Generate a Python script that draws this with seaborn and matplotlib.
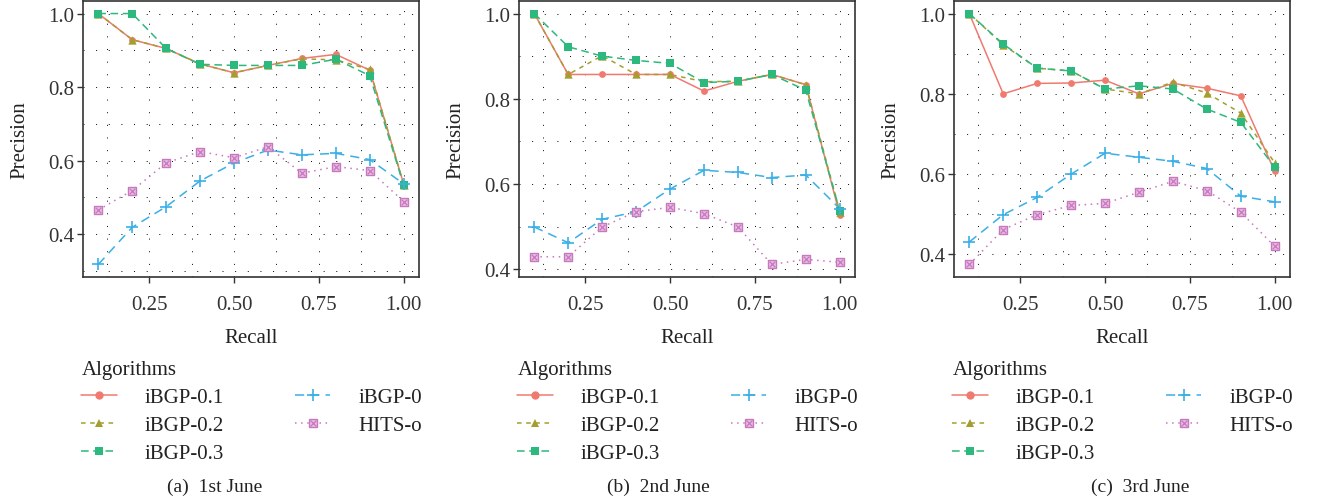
import pandas as pd
import seaborn as sns
import matplotlib.pyplot as plt
from matplotlib.lines import Line2D
from matplotlib.legend_handler import HandlerTuple
from matplotlib.ticker import MultipleLocator, FormatStrFormatter

# Datos -----------------------------------------------------------------------

recall = [0.1, 0.2, 0.3, 0.4, 0.5, 0.6, 0.7, 0.8, 0.9, 1.0]
algorithms = ['iBGP-0.1', 'iBGP-0.2', 'iBGP-0.3', 'iBGP-0', 'HITS-o']
captions = ['(a)  1st June', '(b)  2nd June', '(c)  3rd June']

# 1st June
june1_ibgp01 = [1.0, 0.929, 0.905, 0.863, 0.839, 0.859, 0.878, 0.889, 0.846, 0.536]
june1_ibgp02 = [1.0, 0.929, 0.905, 0.863, 0.839, 0.859, 0.877, 0.874, 0.848, 0.535]
june1_ibgp03 = [1.0, 1.0, 0.905, 0.862, 0.859, 0.859, 0.859, 0.876, 0.831, 0.533]
june1_ibgp0 = [0.318, 0.419, 0.475, 0.545, 0.594, 0.629, 0.616, 0.620, 0.603, 0.537]
june1_hits = [0.466, 0.519, 0.594, 0.625, 0.608, 0.638, 0.566, 0.584, 0.573, 0.489]

# 2nd June
june2_ibgp01 = [1.0, 0.857, 0.857, 0.857, 0.857, 0.818, 0.841, 0.857, 0.833, 0.528]
june2_ibgp02 = [1.0, 0.857, 0.901, 0.857, 0.857, 0.840, 0.841, 0.857, 0.833, 0.535]
june2_ibgp03 = [1.0, 0.922, 0.900, 0.890, 0.883, 0.838, 0.841, 0.857, 0.820, 0.537]
june2_ibgp0 = [0.499, 0.462, 0.517, 0.535, 0.588, 0.632, 0.627, 0.615, 0.621, 0.542]
june2_hits = [0.429, 0.429, 0.499, 0.535, 0.545, 0.530, 0.499, 0.411, 0.423, 0.416]

# 3rd June
june3_ibgp01 = [1.0, 0.800, 0.826, 0.827, 0.834, 0.800, 0.826, 0.814, 0.795, 0.607]
june3_ibgp02 = [1.0, 0.922, 0.864, 0.857, 0.812, 0.800, 0.829, 0.802, 0.752, 0.628]
june3_ibgp03 = [1.0, 0.924, 0.864, 0.857, 0.812, 0.820, 0.812, 0.762, 0.729, 0.617]
june3_ibgp0 = [0.431, 0.499, 0.542, 0.600, 0.652, 0.642, 0.632, 0.614, 0.545, 0.531]
june3_hits = [0.375, 0.462, 0.499, 0.522, 0.527, 0.555, 0.582, 0.559, 0.505, 0.420]

panels = [
    [june1_ibgp01, june1_ibgp02, june1_ibgp03, june1_ibgp0, june1_hits],
    [june2_ibgp01, june2_ibgp02, june2_ibgp03, june2_ibgp0, june2_hits],
    [june3_ibgp01, june3_ibgp02, june3_ibgp03, june3_ibgp0, june3_hits],
]

# Estilo ----------------------------------------------------------------------

colors = {'iBGP-0.1': '#F07A70', 'iBGP-0.2': '#A39F2E', 'iBGP-0.3': '#2DB87D',
          'iBGP-0': '#3AAFE6', 'HITS-o': '#C878BE'}
linestyles = {'iBGP-0.1': '-', 'iBGP-0.2': (0, (3, 3)), 'iBGP-0.3': (0, (5, 3)),
              'iBGP-0': (0, (6, 4)), 'HITS-o': (0, (1, 3))}
markers = {'iBGP-0.1': 'o', 'iBGP-0.2': '^', 'iBGP-0.3': 's', 'iBGP-0': '+', 'HITS-o': 's'}
sizes = {'iBGP-0.1': 24, 'iBGP-0.2': 36, 'iBGP-0.3': 40, 'iBGP-0': 80, 'HITS-o': 30}

FS = 15

sns.set_style('white')
plt.rcParams['font.family'] = ['Liberation Serif', 'DejaVu Serif']
plt.rcParams['text.color'] = '#222222'
plt.rcParams['axes.labelcolor'] = '#222222'
plt.rcParams['xtick.color'] = '#333333'
plt.rcParams['ytick.color'] = '#333333'

fig, axes = plt.subplots(1, 3, figsize=(13.17, 5.02), dpi=100)

ax_left = [83, 519, 954]
caption_x = [215, 658, 1140]
W, H = 1317, 502

for i, ax in enumerate(axes):
    ax.set_position([ax_left[i] / W, (H - 278) / H, 336 / W, 276 / H])

    df = pd.DataFrame({
        'Recall': recall * len(algorithms),
        'Precision': sum(panels[i], []),
        'Algorithms': [a for a in algorithms for _ in recall],
    })

    # lineas primero, puntos encima
    for alg in algorithms:
        sub = df[df['Algorithms'] == alg]
        sns.lineplot(data=sub, x='Recall', y='Precision', color=colors[alg],
                     linestyle=linestyles[alg], linewidth=1.1, ax=ax, zorder=2)
    for alg in algorithms:
        sub = df[df['Algorithms'] == alg]
        if alg == 'HITS-o':
            sns.scatterplot(data=sub, x='Recall', y='Precision', marker='s', s=sizes[alg],
                            color='#E8BFE2', edgecolor=colors[alg], linewidth=1.0,
                            ax=ax, zorder=3)
            sns.scatterplot(data=sub, x='Recall', y='Precision', marker='x', s=16,
                            color=colors[alg], linewidth=0.9, ax=ax, zorder=4)
        elif alg == 'iBGP-0':
            sns.scatterplot(data=sub, x='Recall', y='Precision', marker='+', s=sizes[alg],
                            color=colors[alg], linewidth=1.2, ax=ax, zorder=3)
        else:
            sns.scatterplot(data=sub, x='Recall', y='Precision', marker=markers[alg],
                            s=sizes[alg], color=colors[alg], linewidth=0, ax=ax, zorder=3)

    ax.xaxis.set_major_locator(MultipleLocator(0.25))
    ax.xaxis.set_minor_locator(MultipleLocator(0.125))
    ax.yaxis.set_major_locator(MultipleLocator(0.2))
    ax.yaxis.set_minor_locator(MultipleLocator(0.1))
    ax.xaxis.set_major_formatter(FormatStrFormatter('%.2f'))
    ax.yaxis.set_major_formatter(FormatStrFormatter('%.1f'))
    ax.grid(which='both', color='black', linestyle=(0, (1, 12)), linewidth=0.7)
    ax.tick_params(which='major', direction='out', length=4, width=1.0,
                   labelsize=FS, bottom=True, left=True)
    ax.tick_params(axis='x', which='major', pad=9)
    ax.tick_params(axis='y', which='major', pad=2)
    ax.tick_params(which='minor', length=0)
    for sp in ax.spines.values():
        sp.set_color('#333333')
        sp.set_linewidth(1.2)
    ax.set_xlabel('Recall', fontsize=FS, labelpad=10)
    ax.set_ylabel('Precision', fontsize=FS, labelpad=14)

    handles = []
    for alg in algorithms:
        if alg == 'HITS-o':
            h = (Line2D([], [], color=colors[alg], linestyle=linestyles[alg], linewidth=1.1,
                        marker='s', markersize=5.5, markerfacecolor='#E8BFE2',
                        markeredgecolor=colors[alg]),
                 Line2D([], [], color=colors[alg], linestyle='none', marker='x',
                        markersize=4, markeredgewidth=0.9))
        elif alg == 'iBGP-0':
            h = Line2D([], [], color=colors[alg], linestyle=linestyles[alg], linewidth=1.1,
                       marker='+', markersize=9, markeredgewidth=1.2)
        else:
            h = Line2D([], [], color=colors[alg], linestyle=linestyles[alg], linewidth=1.1,
                       marker=markers[alg], markersize=6, markeredgewidth=0)
        handles.append(h)
    ax.legend(handles, algorithms, title='Algorithms', ncol=2, loc='upper left',
              bbox_to_anchor=(-0.005, -0.30), frameon=False, alignment='left',
              handlelength=1.7, handletextpad=1.35, columnspacing=3.4, labelspacing=0.41,
              fontsize=FS, title_fontsize=FS, borderpad=0, borderaxespad=0,
              handler_map={tuple: HandlerTuple(ndivide=1)})

    fig.text(caption_x[i] / W, 1 - 487 / H, captions[i], ha='center', va='center',
             fontsize=14)

fig.savefig('out.png', dpi=100)
